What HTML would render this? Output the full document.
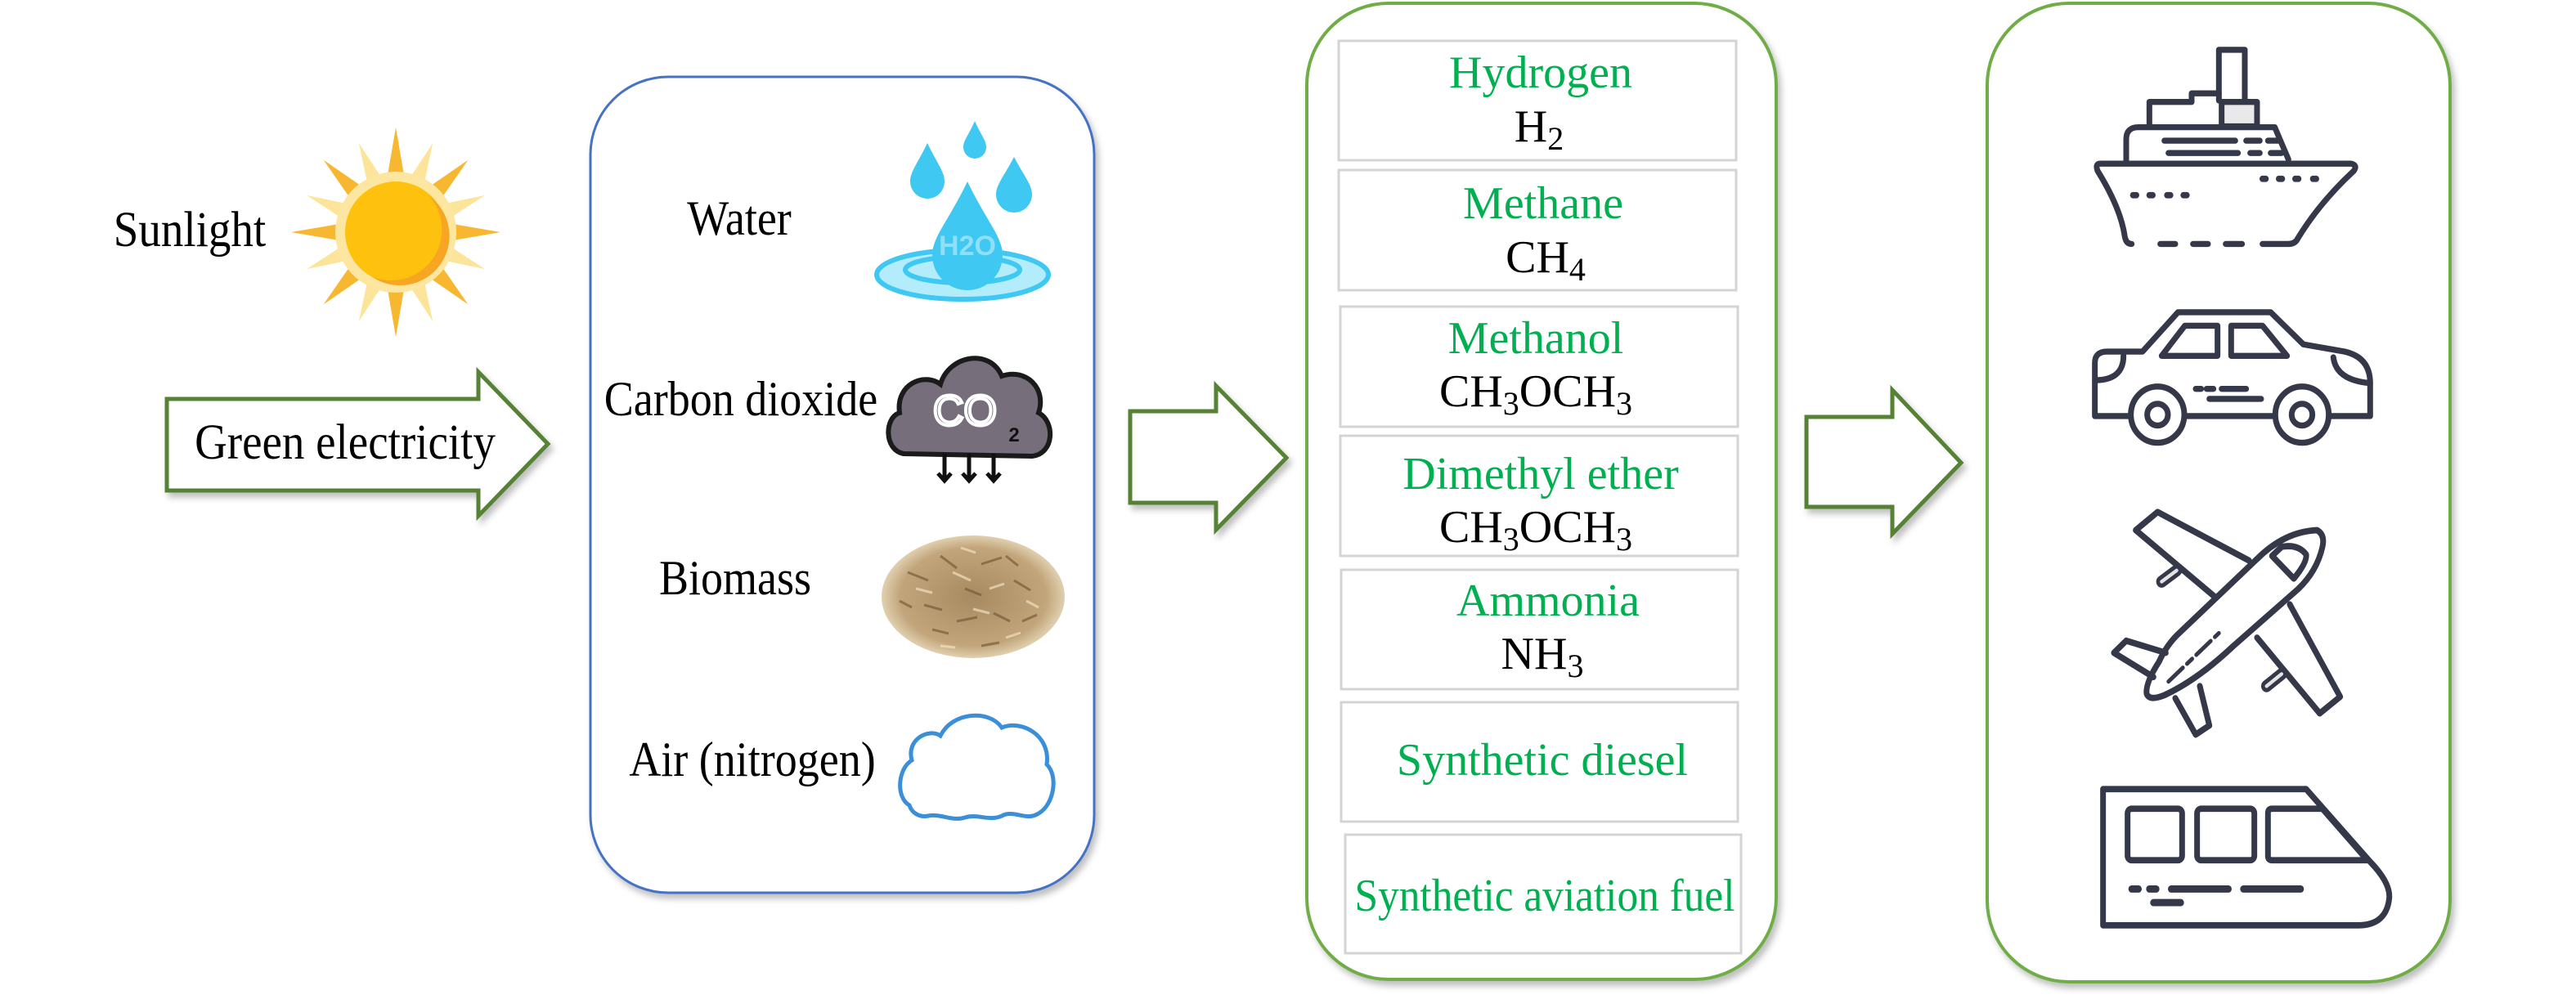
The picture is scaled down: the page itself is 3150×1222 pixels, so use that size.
<!DOCTYPE html>
<html><head><meta charset="utf-8"><style>html,body{margin:0;padding:0;background:#fff;}svg{display:block}</style></head>
<body>
<svg width="3150" height="1222" viewBox="0 0 3150 1222" xmlns="http://www.w3.org/2000/svg">
<defs>
<filter id="sh" x="-10%" y="-10%" width="130%" height="130%"><feDropShadow dx="4" dy="6" stdDeviation="4" flood-color="#000" flood-opacity="0.25"/></filter>
<radialGradient id="bio" cx="50%" cy="50%" r="50%"><stop offset="0" stop-color="#a88a60"/><stop offset="0.8" stop-color="#c2a57a"/><stop offset="1" stop-color="#e0d0b0"/></radialGradient>
</defs>
<g font-family="Liberation Serif, serif" fill="#000">

<!-- Sun -->
<g transform="translate(484,284)">
<g fill="#f7b731">
<polygon points="-10,-70 0,-128 10,-70"/><polygon points="-10,70 0,128 10,70"/>
<polygon points="-70,-10 -128,0 -70,10"/><polygon points="70,-10 128,0 70,10"/>
<g transform="rotate(45)"><polygon points="-10,-70 0,-125 10,-70"/><polygon points="-10,70 0,125 10,70"/><polygon points="-70,-10 -125,0 -70,10"/><polygon points="70,-10 125,0 70,10"/></g>
</g>
<g fill="#fde49b">
<g transform="rotate(22.5)"><polygon points="-9,-70 0,-118 9,-70"/><polygon points="-9,70 0,118 9,70"/><polygon points="-70,-9 -118,0 -70,9"/><polygon points="70,-9 118,0 70,9"/></g>
<g transform="rotate(67.5)"><polygon points="-9,-70 0,-118 9,-70"/><polygon points="-9,70 0,118 9,70"/><polygon points="-70,-9 -118,0 -70,9"/><polygon points="70,-9 118,0 70,9"/></g>
</g>
<circle r="74" fill="#fde7a0"/>
<circle r="62" fill="#fdc10e"/>
<path d="M40,-45 A62,62 0 0 1 -30,54 A58,58 0 0 0 40,-45 Z" fill="#f6a623"/>
</g>
<text transform="translate(232,301) scale(1,1.12)" font-size="55" text-anchor="middle">Sunlight</text>

<!-- Green electricity arrow -->
<polygon points="204,488 585,488 585,455 670,543 585,631 585,600 204,600" fill="#fff" stroke="#548235" stroke-width="5" filter="url(#sh)"/>
<text transform="translate(422,561) scale(1,1.12)" font-size="55" text-anchor="middle">Green electricity</text>

<!-- Blue box -->
<rect x="722" y="94" width="616" height="998" rx="95" fill="#fff" stroke="#4472c4" stroke-width="3" filter="url(#sh)"/>
<g font-size="54" text-anchor="middle">
<text transform="translate(904,287) scale(1,1.12)">Water</text>
<text transform="translate(906,508) scale(1,1.12)">Carbon dioxide</text>
<text transform="translate(899,727) scale(1,1.12)">Biomass</text>
<text transform="translate(920,949) scale(1,1.12)">Air (nitrogen)</text>
</g>

<!-- Water icon -->
<g fill="#3ec8f2">
<ellipse cx="1177" cy="336" rx="105" ry="30" fill="#b3ecfb" stroke="#3ec8f2" stroke-width="6"/>
<ellipse cx="1177" cy="330" rx="70" ry="16" fill="none" stroke="#3ec8f2" stroke-width="6"/>
<path d="M1183,222 C1160,270 1140,290 1140,312 A43,43 0 0 0 1226,312 C1226,290 1206,270 1183,222 Z"/>
<path d="M1134,175 C1122,200 1113,210 1113,222 A21,21 0 0 0 1155,222 C1155,210 1146,200 1134,175 Z"/>
<path d="M1192,148 C1184,166 1178,172 1178,180 A14,14 0 0 0 1206,180 C1206,172 1200,166 1192,148 Z"/>
<path d="M1240,192 C1228,215 1218,226 1218,238 A22,22 0 0 0 1262,238 C1262,226 1252,215 1240,192 Z"/>
<text x="1183" y="312" font-family="Liberation Sans, sans-serif" font-weight="bold" font-size="34" fill="#8fdff8" text-anchor="middle">H2O</text>
</g>

<!-- CO2 cloud -->
<path d="M1105,555 C1080,550 1082,510 1100,505 C1095,470 1130,455 1150,470 C1160,435 1210,425 1225,460 C1255,450 1280,475 1270,505 C1290,515 1290,555 1262,558 Z" fill="#776e7c" stroke="#1b1b1b" stroke-width="6"/>
<text x="1180" y="520" font-family="Liberation Sans, sans-serif" font-size="52" fill="#776e7c" stroke="#fff" stroke-width="4" text-anchor="middle">CO</text>
<text x="1240" y="540" font-family="Liberation Sans, sans-serif" font-weight="bold" font-size="24" fill="#111" text-anchor="middle">2</text>
<g stroke="#111" stroke-width="5" fill="none">
<path d="M1155,555 v32 M1147,579 l8,9 l8,-9"/><path d="M1185,555 v32 M1177,579 l8,9 l8,-9"/><path d="M1215,555 v32 M1207,579 l8,9 l8,-9"/>
</g>

<!-- Biomass -->
<ellipse cx="1190" cy="730" rx="112" ry="75" fill="url(#bio)"/>
<g stroke="#6b5232" stroke-width="3" opacity="0.6">
<path d="M1110,700 l25,10 M1150,680 l20,15 M1200,690 l25,-8 M1240,710 l20,12 M1130,740 l22,6 M1170,760 l25,-5 M1215,750 l20,10 M1250,760 l18,-8 M1180,720 l20,8 M1140,770 l20,5 M1200,790 l22,-4 M1230,680 l15,12 M1100,735 l15,8"/>
</g>
<g stroke="#f0e0c0" stroke-width="3" opacity="0.7">
<path d="M1120,720 l20,5 M1165,700 l22,10 M1210,720 l18,-6 M1255,735 l15,8 M1150,790 l18,2 M1190,745 l20,5 M1230,780 l18,-6 M1175,670 l18,6"/>
</g>

<!-- Air cloud -->
<path d="M1112,985 C1095,975 1098,940 1115,930 C1108,905 1135,890 1150,900 C1165,870 1210,868 1225,890 C1250,880 1285,900 1280,935 C1295,950 1288,985 1270,995 C1255,1005 1240,990 1225,998 C1210,1005 1195,995 1180,1000 C1165,1005 1150,995 1135,998 C1125,1000 1115,995 1112,985 Z" fill="none" stroke="#3b8fd8" stroke-width="5"/>

<!-- Arrow 2 -->
<polygon points="1382,503 1487,503 1487,472 1573,560 1487,648 1487,615 1382,615" fill="#fff" stroke="#548235" stroke-width="5" filter="url(#sh)"/>

<!-- Middle green box -->
<rect x="1598" y="4" width="574" height="1194" rx="100" fill="#fff" stroke="#70ad47" stroke-width="4" filter="url(#sh)"/>
<g fill="#fff" stroke="#d4d4d4" stroke-width="3">
<rect x="1637" y="50" width="486" height="146"/>
<rect x="1637" y="208" width="486" height="147"/>
<rect x="1639" y="375" width="486" height="147"/>
<rect x="1639" y="533" width="486" height="147"/>
<rect x="1640" y="697" width="485" height="146"/>
<rect x="1640" y="859" width="485" height="146"/>
<rect x="1645" y="1021" width="484" height="145"/>
</g>
<g font-size="56" text-anchor="middle">
<text x="1884" y="107" fill="#00b050">Hydrogen</text>
<text x="1882" y="173">H<tspan font-size="40" dy="10">2</tspan></text>
<text x="1887" y="267" fill="#00b050">Methane</text>
<text x="1890" y="333">CH<tspan font-size="40" dy="10">4</tspan></text>
<text x="1878" y="432" fill="#00b050">Methanol</text>
<text x="1878" y="497">CH<tspan font-size="40" dy="10">3</tspan><tspan dy="-10">OCH</tspan><tspan font-size="40" dy="10">3</tspan></text>
<text x="1884" y="598" fill="#00b050">Dimethyl ether</text>
<text x="1878" y="663">CH<tspan font-size="40" dy="10">3</tspan><tspan dy="-10">OCH</tspan><tspan font-size="40" dy="10">3</tspan></text>
<text x="1893" y="753" fill="#00b050">Ammonia</text>
<text x="1886" y="818">NH<tspan font-size="40" dy="10">3</tspan></text>
<text x="1886" y="948" fill="#00b050">Synthetic diesel</text>
<text x="1889" y="1114" fill="#00b050" textLength="465" lengthAdjust="spacingAndGlyphs">Synthetic aviation fuel</text>
</g>

<!-- Arrow 3 -->
<polygon points="2209,510 2314,510 2314,477 2398,566 2314,653 2314,620 2209,620" fill="#fff" stroke="#548235" stroke-width="5" filter="url(#sh)"/>

<!-- Right box -->
<rect x="2430" y="4" width="566" height="1197" rx="100" fill="#fff" stroke="#70ad47" stroke-width="4" filter="url(#sh)"/>

<!-- Ship & Car -->
<g transform="translate(2500,30) scale(0.3333,0.3509)" fill="none" stroke="#343849" stroke-width="21" stroke-linejoin="round" stroke-linecap="round">
<path d="M640,265 V88 H735 V265"/>
<path d="M385,355 V270 H540 V240 H640"/>
<rect x="650" y="270" width="130" height="85" fill="#e8e9e8"/>
<path d="M300,475 V400 Q300,358 345,358 H845 L895,470"/>
<path d="M320,765 Q300,765 295,740 Q280,640 195,510 Q185,485 205,485 H1125 Q1150,490 1135,510 Q1010,620 930,745 Q920,765 895,765 H800"/>
<path d="M425,765 H480 M545,765 H600 M665,765 H725"/>
<path d="M440,405 H700 M740,405 H790 M820,405 H860 M455,448 H710 M755,448 H790 M830,448 H870"/>
<path d="M800,538 h12 M860,538 h12 M920,538 h12 M985,538 h12 M325,595 h12 M385,595 h12 M450,595 h12 M510,595 h12" stroke-width="22"/>
<path d="M185,1240 V1180 Q185,1140 230,1140 H360 L490,1003 H830 L950,1115 L1100,1140 Q1195,1160 1195,1250 V1365 H1050 M840,1365 H520 M315,1365 H185 V1240"/>
<path d="M430,1155 L515,1050 H635 V1155 Z M685,1050 H800 L890,1155 H685 Z"/>
<circle cx="415" cy="1360" r="98"/><circle cx="415" cy="1360" r="38"/>
<circle cx="945" cy="1360" r="98"/><circle cx="945" cy="1360" r="38"/>
<path d="M185,1240 Q290,1240 290,1155 M1195,1250 Q1070,1240 1060,1160"/>
<path d="M555,1270 H575 M595,1270 H620 M650,1270 H740 M605,1305 H795"/>
</g>

<!-- Plane & Train -->
<g transform="translate(2500,580) scale(0.3333,0.3704)" fill="none" stroke="#343849" stroke-width="21" stroke-linejoin="round" stroke-linecap="round">
<path d="M1000,185 Q1030,200 1020,240 Q1000,320 930,380 L690,570 Q560,680 440,730 Q385,750 375,725 Q370,690 420,620 Q450,560 500,520 L780,280 Q880,190 1000,185 Z"/>
<path d="M835,270 L870,240 Q930,230 960,265 Q965,290 915,345 Z"/>
<path d="M750,285 L415,125 L335,185 L625,405"/>
<path d="M900,430 L1085,735 L1010,790 L780,540"/>
<path d="M430,355 L485,318 M815,700 L870,660" stroke-width="40"/>
<path d="M430,355 L485,318 M815,700 L870,660" stroke="#e4e4e4" stroke-width="12"/>
<path d="M445,590 L300,550 L255,590 L400,670"/>
<path d="M570,700 L605,830 L555,860 L480,740"/>
<path d="M455,685 L640,525" stroke-width="14" stroke-dasharray="70,20,25,20"/>
<path d="M215,1040 H960 L1195,1280 Q1270,1350 1265,1400 Q1255,1490 1150,1490 H215 Z"/>
<rect x="305" y="1105" width="200" height="170" rx="15"/>
<rect x="560" y="1105" width="210" height="170" rx="15"/>
<path d="M820,1120 Q820,1105 835,1105 H1020 L1185,1275 H835 Q820,1275 820,1260 Z"/>
<path d="M320,1370 H345 M385,1370 H410 M465,1370 H675 M730,1370 H940 M400,1415 H500" stroke-width="24"/>
</g>
</g>
</svg>
</body></html>
